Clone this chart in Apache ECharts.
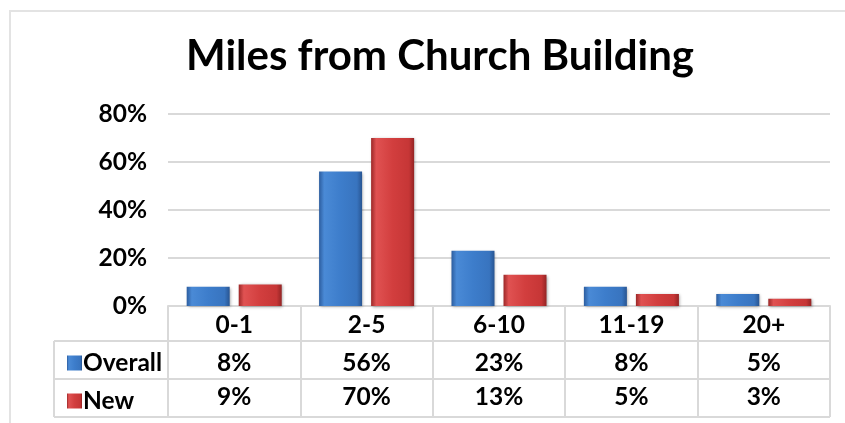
<!DOCTYPE html>
<html>
<head>
<meta charset="utf-8">
<script src="https://cdn.jsdelivr.net/npm/echarts@6/dist/echarts.min.js"></script>
<style>html,body{margin:0;padding:0;background:#fff}#c{width:845px;height:423px}</style>
</head>
<body>
<div id="c"></div>
<script>
const title = 'Miles from Church Building';
const categories = ['0-1', '2-5', '6-10', '11-19', '20+'];
const overall = [8, 56, 23, 8, 5];
const newcomers = [9, 70, 13, 5, 3];
const seriesNames = ['Overall', 'New'];
const yTicks = { min: 0, max: 80, interval: 20 };

const FONT = 'Lato, "Open Sans", sans-serif';
const FS = 24.5;
const G = { left: 168, right: 830, top: 114, bottom: 306 };
const ROW1 = 341, ROW2 = 379, ROW3 = 417, LEGCOL = 54;
const LINE = '#d9d9d9';

const chart = echarts.init(document.getElementById('c'));
function grad(c) {
  return new echarts.graphic.LinearGradient(0, 0, 1, 0, [
    { offset: 0, color: c[0] }, { offset: 0.12, color: c[1] },
    { offset: 0.5, color: c[2] }, { offset: 0.88, color: c[3] }, { offset: 1, color: c[4] }
  ]);
}
const blue = grad(['#2c5d9f', '#4a8ad6', '#3d7dcb', '#3874bf', '#285592']);
const red = grad(['#9c2828', '#e05252', '#d23e3e', '#c63636', '#942424']);
const rowLabelAxis = (vals, offset) => ({
  type: 'category', data: categories, position: 'bottom', offset: offset,
  axisLine: { show: false }, axisTick: { show: false },
  axisLabel: { margin: 7, interval: 0, fontFamily: FONT, fontWeight: 'bold', fontSize: FS, color: '#000',
    formatter: (v, i) => vals[i] + '%' }
});
const hline = (y, x1) => ({ type: 'line', shape: { x1: x1, y1: y, x2: G.right, y2: y }, style: { stroke: LINE, lineWidth: 2 }, z: 0 });

chart.setOption({
  animation: false,
  title: { text: title, left: 435, top: 30, textAlign: 'center',
    textStyle: { fontFamily: FONT, fontWeight: 'bold', fontSize: 42, color: '#000' } },
  grid: { left: G.left, right: 845 - G.right, top: G.top, bottom: 423 - G.bottom },
  legend: { orient: 'vertical', left: 62, top: 345, itemGap: 12, itemWidth: 15, itemHeight: 15,
    icon: 'rect', selectedMode: false, data: seriesNames,
    textStyle: { fontFamily: FONT, fontWeight: 'bold', fontSize: FS, color: '#000', lineHeight: 26, padding: [0, 0, 0, -4] } },
  xAxis: [
    { type: 'category', data: categories, position: 'bottom',
      axisLine: { lineStyle: { color: LINE, width: 2 } },
      axisTick: { show: true, interval: 0, length: ROW3 - G.bottom, inside: false, lineStyle: { color: LINE, width: 2 } },
      axisLabel: { margin: 7, interval: 0, fontFamily: FONT, fontWeight: 'bold', fontSize: FS, color: '#000' } },
    rowLabelAxis(overall, ROW1 - G.bottom + 3),
    rowLabelAxis(newcomers, ROW2 - G.bottom - 1)
  ],
  yAxis: { type: 'value', min: yTicks.min, max: yTicks.max, interval: yTicks.interval,
    axisLine: { show: false }, axisTick: { show: false },
    axisLabel: { margin: 21, fontFamily: FONT, fontWeight: 'bold', fontSize: FS, color: '#000', formatter: '{value}%' },
    splitLine: { lineStyle: { color: LINE, width: 2 } } },
  series: [
    { name: seriesNames[0], type: 'bar', data: overall, barWidth: 43, barGap: '21%',
      itemStyle: { color: blue, shadowBlur: 3, shadowColor: 'rgba(0,0,0,0.35)', shadowOffsetX: 1, shadowOffsetY: 1 } },
    { name: seriesNames[1], type: 'bar', data: newcomers, barWidth: 43,
      itemStyle: { color: red, shadowBlur: 3, shadowColor: 'rgba(0,0,0,0.35)', shadowOffsetX: 1, shadowOffsetY: 1 } }
  ],
  graphic: [
    { type: 'polyline', shape: { points: [[845, 11], [10, 11], [10, 423]] }, style: { stroke: '#e3e3e3', lineWidth: 2, fill: null } },
    hline(ROW1, LEGCOL), hline(ROW2, LEGCOL), hline(ROW3, LEGCOL),
    { type: 'line', shape: { x1: LEGCOL, y1: ROW1, x2: LEGCOL, y2: ROW3 }, style: { stroke: LINE, lineWidth: 2 } }
  ]
});
</script>
</body>
</html>
